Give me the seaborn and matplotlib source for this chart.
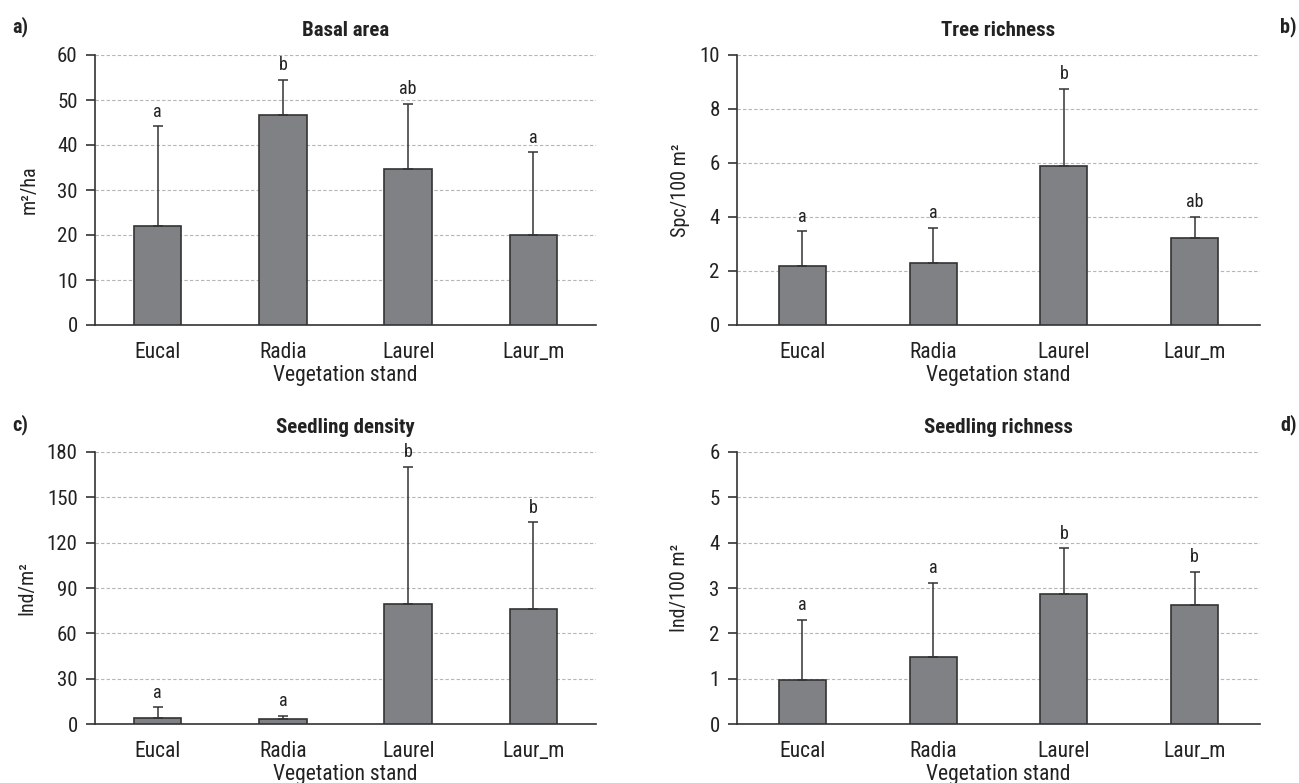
# =========================================
# VEGETATION STAND COMPARISON - 4 PANELS
# =========================================

import numpy as np
import pandas as pd
import matplotlib
matplotlib.use("Agg")
import matplotlib.pyplot as plt
import seaborn as sns

# -------------------------------
# DATA
# -------------------------------

categories = ["Eucal", "Radia", "Laurel", "Laur_m"]

basal_mean = [22.0, 46.7, 34.7, 19.9]
basal_sd = [22.2, 7.8, 14.4, 18.5]
basal_letters = ["a", "b", "ab", "a"]

tree_mean = [2.2, 2.3, 5.9, 3.22]
tree_sd = [1.27, 1.3, 2.85, 0.78]
tree_letters = ["a", "a", "b", "ab"]

seed_dens_mean = [4.0, 3.2, 79.4, 76.0]
seed_dens_sd = [7.2, 2.2, 91.0, 57.5]
seed_dens_letters = ["a", "a", "b", "b"]

seed_rich_mean = [0.97, 1.48, 2.87, 2.63]
seed_rich_sd = [1.33, 1.64, 1.01, 0.73]
seed_rich_letters = ["a", "a", "b", "b"]

# -------------------------------
# STYLE
# -------------------------------

sns.set_style("white")
plt.rcParams["font.family"] = ["Roboto Condensed", "Open Sans Condensed", "Roboto", "DejaVu Sans"]

BAR_COLOR = "#808184"
EDGE_COLOR = "#333333"
AXIS_COLOR = "#333333"
TEXT_COLOR = "#222222"

fig = plt.figure(figsize=(12.99, 7.83), dpi=100)

W, H = 1299, 783


def make_ax(left, top, right, bottom):
    return fig.add_axes([left / W, 1 - bottom / H, (right - left) / W, (bottom - top) / H])


ax_a = make_ax(95, 55, 596, 325)
ax_b = make_ax(737, 55, 1260, 325)
ax_c = make_ax(95, 452, 596, 724)
ax_d = make_ax(737, 452, 1260, 724)

panels = [
    (ax_a, basal_mean, basal_sd, basal_letters, "Basal area", "m²/ha", 60, 10, 0.38, -0.113),
    (ax_b, tree_mean, tree_sd, tree_letters, "Tree richness", "Spc/100 m²", 10, 2, 0.36, -0.09),
    (ax_c, seed_dens_mean, seed_dens_sd, seed_dens_letters, "Seedling density", "Ind/m²", 180, 30, 0.38, -0.117),
    (ax_d, seed_rich_mean, seed_rich_sd, seed_rich_letters, "Seedling richness", "Ind/100 m²", 6, 1, 0.36, -0.092),
]

# =========================================
# DRAW PANELS
# =========================================

for ax, mean, sd, letters, title, ylabel, ymax, ystep, width, ylab_x in panels:

    df = pd.DataFrame({"stand": categories, "value": mean, "sd": sd})

    sns.barplot(
        data=df,
        x="stand",
        y="value",
        color=BAR_COLOR,
        saturation=1,
        width=width,
        edgecolor=EDGE_COLOR,
        linewidth=1.2,
        errorbar=None,
        ax=ax,
        zorder=3
    )

    # upper error bars only
    xs = np.arange(len(categories))
    ax.errorbar(
        xs,
        df["value"],
        yerr=[np.zeros(len(xs)), df["sd"]],
        fmt="none",
        ecolor=EDGE_COLOR,
        elinewidth=1.1,
        capsize=3.3,
        capthick=1.1,
        zorder=4
    )

    # significance letters
    for x, m, s, lab in zip(xs, mean, sd, letters):
        ax.annotate(
            lab,
            (x, m + s),
            xytext=(0, 4),
            textcoords="offset points",
            ha="center",
            va="bottom",
            fontsize=13,
            color=TEXT_COLOR
        )

    ax.set_xlim(-0.5, 3.5)
    ax.set_ylim(0, ymax)
    ax.set_yticks(np.arange(0, ymax + ystep / 2, ystep))

    ax.yaxis.grid(True, linestyle=(0, (3, 2)), color="#b5b5b5", linewidth=0.8)
    ax.set_axisbelow(True)

    for side in ["top", "right"]:
        ax.spines[side].set_visible(False)
    for side in ["left", "bottom"]:
        ax.spines[side].set_color(AXIS_COLOR)
        ax.spines[side].set_linewidth(1.2)

    # category separators as minor ticks
    ax.set_xticks([-0.5, 0.5, 1.5, 2.5], minor=True)
    ax.tick_params(axis="x", which="major", length=0, pad=12, labelsize=15.5, colors=TEXT_COLOR)
    ax.tick_params(axis="x", which="minor", length=6, width=1.2, direction="out", color=AXIS_COLOR)
    ax.tick_params(axis="y", which="major", length=6.5, width=1.2, direction="out", pad=6,
                   color=AXIS_COLOR, labelsize=15, labelcolor=TEXT_COLOR, left=True)

    ax.set_xlabel("Vegetation stand", fontsize=15.5, labelpad=1.5, color=TEXT_COLOR)
    ax.set_ylabel(ylabel, fontsize=14.5, color=TEXT_COLOR)
    ax.yaxis.set_label_coords(ylab_x, 0.5)
    ax.set_title(title, fontsize=15, fontweight="bold", pad=14, color=TEXT_COLOR)

# panel tags
fig.text(12 / W, 1 - 27 / H, "a)", fontsize=14.5, fontweight="bold", va="center", ha="left", color=TEXT_COLOR)
fig.text(1280 / W, 1 - 27 / H, "b)", fontsize=14.5, fontweight="bold", va="center", ha="left", color=TEXT_COLOR)
fig.text(12 / W, 1 - 425 / H, "c)", fontsize=14.5, fontweight="bold", va="center", ha="left", color=TEXT_COLOR)
fig.text(1280 / W, 1 - 425 / H, "d)", fontsize=14.5, fontweight="bold", va="center", ha="left", color=TEXT_COLOR)

plt.savefig("out.png", dpi=100)
plt.close()
